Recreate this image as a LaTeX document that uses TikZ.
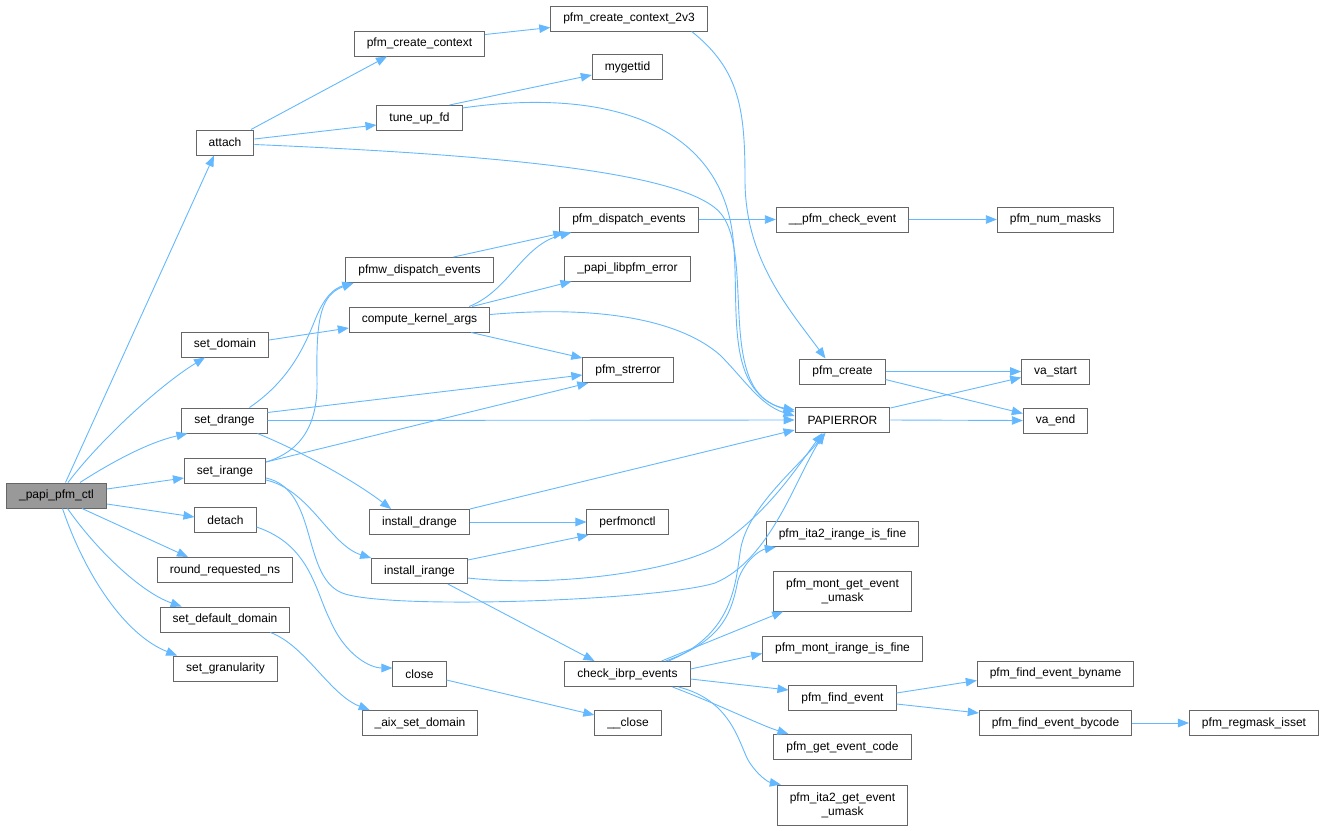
\documentclass[tikz,border=0pt]{standalone}
\usepackage{fontspec}
\setmainfont{Liberation Sans}
\usetikzlibrary{arrows.meta,calc}

\definecolor{edgeblue}{HTML}{63B8FF}
\definecolor{boxgray}{HTML}{666666}
\definecolor{rootgray}{HTML}{999999}

\tikzset{
  fn/.style={draw=boxgray, line width=1pt, fill=white, minimum height=25pt,
    inner xsep=12.5pt, inner ysep=0pt, font=\fontsize{12}{14}\selectfont},
  fntwo/.style={fn, align=center, minimum height=40pt},
  root/.style={fn, fill=rootgray},
  call/.style={draw=edgeblue, line width=0.9pt, -{Triangle[length=11pt,width=8.5pt]}},
}

\begin{document}
\begin{tikzpicture}[x=1pt,y=-1pt]
\useasboundingbox (0,0) rectangle (1325,830);

% functions, column by column
\node[root] (papi) at (56.5,495.5) {\_papi\_pfm\_ctl};

\node[fn] (attach) at (225,142.5) {attach};
\node[fn] (setdom) at (225,344.5) {set\_domain};
\node[fn] (setdr) at (224.5,420.5) {set\_drange};
\node[fn] (setir) at (225,471) {set\_irange};
\node[fn] (detach) at (225.5,520) {detach};
\node[fn] (rrns) at (225,570) {round\_requested\_ns};
\node[fn] (setdefdom) at (225,619.5) {set\_default\_domain};
\node[fn] (setgran) at (225.5,668.5) {set\_granularity};

\node[fn] (pcc) at (419.5,43.5) {pfm\_create\_context};
\node[fn] (tune) at (419.5,118) {tune\_up\_fd};
\node[fn] (pfmw) at (419.5,270) {pfmw\_dispatch\_events};
\node[fn] (cka) at (419.5,319.5) {compute\_kernel\_args};
\node[fn] (instdr) at (419.5,522) {install\_drange};
\node[fn] (instir) at (419.5,571) {install\_irange};
\node[fn] (close) at (419.5,674) {close};
\node[fn] (aix) at (420,723) {\_aix\_set\_domain};

\node[fn] (pcc23) at (629,18.5) {pfm\_create\_context\_2v3};
\node[fn] (mygettid) at (627.5,67) {mygettid};
\node[fn] (pde) at (629,219.5) {pfm\_dispatch\_events};
\node[fn] (libpfmerr) at (627.5,268.5) {\_papi\_libpfm\_error};
\node[fn] (strerror) at (628,370) {pfm\_strerror};
\node[fn] (perfmonctl) at (627.5,522) {perfmonctl};
\node[fn] (ibrp) at (627.5,674) {check\_ibrp\_events};
\node[fn] (uclose) at (628,723) {\_\_close};

\node[fn] (pce) at (842.5,219.5) {\_\_pfm\_check\_event};
\node[fn] (pfmcreate) at (842.5,371.5) {pfm\_create};
\node[fn] (papierror) at (842.5,420) {PAPIERROR};
\node[fn] (ita2fine) at (842.5,534) {pfm\_ita2\_irange\_is\_fine};
\node[fntwo] (montumask) at (842.5,591) {pfm\_mont\_get\_event\\\_umask};
\node[fn] (montfine) at (842.5,648.5) {pfm\_mont\_irange\_is\_fine};
\node[fn] (findev) at (842.5,698) {pfm\_find\_event};
\node[fn] (evcode) at (842.5,747) {pfm\_get\_event\_code};
\node[fntwo] (ita2umask) at (842.5,805) {pfm\_ita2\_get\_event\\\_umask};

\node[fn] (nummasks) at (1055.5,219.5) {pfm\_num\_masks};
\node[fn] (vastart) at (1055.5,371.5) {va\_start};
\node[fn] (vaend) at (1055.5,420.5) {va\_end};
\node[fn] (byname) at (1055.5,673.5) {pfm\_find\_event\_byname};
\node[fn] (bycode) at (1055.5,723) {pfm\_find\_event\_bycode};
\node[fn] (regmask) at (1254,723) {pfm\_regmask\_isset};

% calls of _papi_pfm_ctl
\draw[call] ($(papi.north)+(9,0)$) -- ($(attach.south)+(-11,0)$);
\draw[call] ($(papi.north)+(11.5,0)$) .. controls (100,440) and (160,385) .. ($(setdom.south)+(-20,0)$);
\draw[call] ($(papi.north)+(23.5,0)$) .. controls (115,460) and (150,442) .. ($(setdr.south west)+(6,0)$);
\draw[call] ($(papi.east)+(0,-6.5)$) -- ($(setir.west)+(0,7)$);
\draw[call] ($(papi.east)+(0,8.5)$) -- ($(detach.west)+(0,-3)$);
\draw[call] ($(papi.south)+(25.5,0)$) -- ($(rrns.north)+(-37,0)$);
\draw[call] ($(papi.south)+(11,0)$) .. controls (95,548) and (140,592) .. ($(setdefdom.north west)+(22,0)$);
\draw[call] ($(papi.south)+(6,0)$) .. controls (85,575) and (125,635) .. ($(setgran.north west)+(4,0)$);

% attach and tune_up_fd
\draw[call] ($(attach.north)+(26,0)$) -- ($(pcc.south)+(-32.5,0)$);
\draw[call] ($(attach.east)+(0,-3.5)$) -- ($(tune.west)+(0,7)$);
\draw[call] ($(attach.east)+(0,2)$) .. controls (500,155) and (690,172) .. (722,215)
  .. controls (755,260) and (715,395) .. ($(papierror.north west)+(0,3)$);
\draw[call] ($(pcc.east)+(0,-9)$) -- ($(pcc23.west)+(0,9)$);
\draw[call] ($(pcc23.south east)+(-16,0)$) .. controls (740,70) and (745,110) .. (745,180)
  .. controls (745,260) and (790,310) .. ($(pfmcreate.north)+(-17,0)$);
\draw[call] ($(tune.north east)+(-13,0)$) -- ($(mygettid.west)+(0,8)$);
\draw[call] ($(tune.north east)+(0,3)$) .. controls (600,88) and (715,120) .. (732,230)
  .. controls (742,300) and (720,390) .. ($(papierror.north west)+(0,5)$);

% dispatch and kernel args
\draw[call] ($(pfmw.north east)+(-40,0)$) -- ($(pde.south west)+(5,0)$);
\draw[call] (pde.east) -- (pce.west);
\draw[call] (pce.east) -- (nummasks.west);
\draw[call] ($(cka.north east)+(-21,0)$) .. controls (510,290) and (522,245) .. ($(pde.south west)+(12,0)$);
\draw[call] ($(cka.north east)+(-18,0)$) -- ($(libpfmerr.south west)+(7,0)$);
\draw[call] ($(cka.south east)+(-19,0)$) -- ($(strerror.north west)+(0,1)$);
\draw[call] ($(cka.east)+(0,-5)$) .. controls (600,305) and (680,320) .. (720,355)
  .. controls (745,380) and (760,405) .. ($(papierror.west)+(0,-4)$);
\draw[call] ($(setdom.east)+(0,-4.5)$) -- ($(cka.west)+(0,8.5)$);

% set_drange and set_irange
\draw[call] ($(setdr.north)+(25,0)$) .. controls (290,380) and (305,345) .. (315,320)
  .. controls (325,295) and (335,288) .. ($(pfmw.south west)+(8,0)$);
\draw[call] ($(setir.north east)+(0,4)$) .. controls (305,450) and (318,420) .. (317,380)
  .. controls (316,320) and (320,295) .. ($(pfmw.south west)+(8,0)$);
\draw[call] ($(setdr.east)+(0,-8)$) -- ($(strerror.west)+(0,5)$);
\draw[call] (setdr.east) -- (papierror.west);
\draw[call] ($(setdr.south east)+(-10,0)$) .. controls (310,455) and (360,485) .. ($(instdr.north west)+(22,0)$);
\draw[call] ($(setir.north east)+(0,4)$) -- ($(strerror.south west)+(6,0)$);
\draw[call] ($(setir.east)+(0,7)$) .. controls (320,490) and (300,580) .. (345,594)
  .. controls (400,610) and (660,600) .. (715,583)
  .. controls (770,560) and (795,480) .. ($(papierror.south)+(-18,0)$);
\draw[call] ($(setir.east)+(0,9)$) .. controls (310,490) and (330,545) .. (instir.north west);

% install_drange and install_irange
\draw[call] (instdr.north east) -- ($(papierror.south west)+(0,-3)$);
\draw[call] (instdr.east) -- (perfmonctl.west);
\draw[call] ($(instir.north east)+(0,2)$) -- ($(perfmonctl.south west)+(2,0)$);
\draw[call] ($(instir.east)+(0,7)$) .. controls (560,588) and (680,570) .. (720,545)
  .. controls (770,510) and (795,470) .. ($(papierror.south)+(-20,0)$);
\draw[call] ($(instir.south east)+(-20,0)$) -- ($(ibrp.north)+(-33,0)$);

% detach, close, default domain
\draw[call] ($(detach.east)+(0,7)$) .. controls (310,545) and (315,590) .. (330,620)
  .. controls (345,655) and (370,668) .. ($(close.west)+(0,-6)$);
\draw[call] ($(close.east)+(0,6)$) -- ($(uclose.west)+(0,-8)$);
\draw[call] ($(setdefdom.south east)+(-20,0)$) .. controls (305,645) and (330,695) .. ($(aix.north west)+(8,0)$);

% check_ibrp_events
\draw[call] ($(ibrp.north east)+(-22,0)$) .. controls (730,635) and (735,590) .. (740,553)
  .. controls (745,510) and (795,470) .. ($(papierror.south)+(-17,0)$);
\draw[call] ($(ibrp.north east)+(-25,0)$) .. controls (725,640) and (732,610) .. (738,580)
  .. controls (745,560) and (760,550) .. ($(ita2fine.south west)+(10,0)$);
\draw[call] ($(ibrp.north)+(34,0)$) -- ($(montumask.south west)+(10,0)$);
\draw[call] ($(ibrp.east)+(0,-5)$) -- ($(montfine.west)+(0,5)$);
\draw[call] ($(ibrp.east)+(0,5)$) -- ($(findev.west)+(0,-8)$);
\draw[call] ($(ibrp.south east)+(-18,0)$) .. controls (720,705) and (760,725) .. ($(evcode.north west)+(15,0)$);
\draw[call] ($(ibrp.south east)+(-12,0)$) .. controls (730,700) and (738,740) .. (748,760)
  .. controls (757,775) and (768,782) .. ($(ita2umask.north west)+(4,0)$);

% pfm_find_event
\draw[call] ($(findev.east)+(0,-5)$) -- ($(byname.west)+(0,7)$);
\draw[call] ($(findev.east)+(0,6)$) -- ($(bycode.west)+(0,-10)$);
\draw[call] (bycode.east) -- (regmask.west);

% pfm_create and PAPIERROR
\draw[call] (pfmcreate.east) -- (vastart.west);
\draw[call] ($(pfmcreate.south east)+(0,-5)$) -- ($(vaend.west)+(0,-7)$);
\draw[call] ($(papierror.north east)+(0,1)$) -- ($(vastart.west)+(0,6)$);
\draw[call] (papierror.east) -- (vaend.west);

\end{tikzpicture}
\end{document}
